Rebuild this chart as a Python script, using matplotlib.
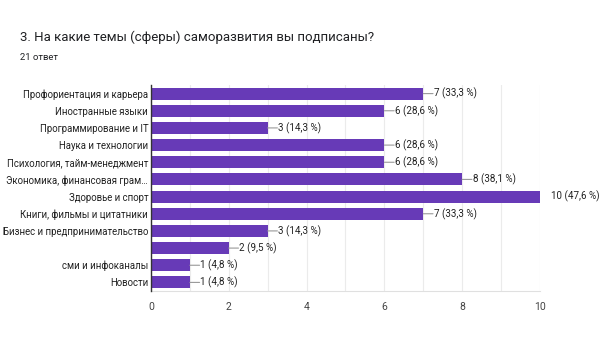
import matplotlib.pyplot as plt
from matplotlib.ticker import MultipleLocator

plt.rcParams['font.family'] = ['Roboto', 'DejaVu Sans']

categories = ['Профориентация и карьера', 'Иностранные языки', 'Программирование и IT',
              'Наука и технологии', 'Психология, тайм-менеджмент', 'Экономика, финансовая грам…',
              'Здоровье и спорт', 'Книги, фильмы и цитатники', 'Бизнес и предпринимательство',
              '', 'сми и инфоканалы', 'Новости']
counts = [7, 6, 3, 6, 6, 8, 10, 7, 3, 2, 1, 1]
percents = ['33,3', '28,6', '14,3', '28,6', '28,6', '38,1', '47,6', '33,3', '14,3', '9,5', '4,8', '4,8']
xticks = [0, 2, 4, 6, 8, 10]

bar_color = '#673ab7'
fs = 7.1

fig = plt.figure(figsize=(6.01, 3.52), dpi=100)
ax = fig.add_axes([0.2512, 0.1733, 0.6473, 0.5852])

ypos = list(range(len(categories)))
ax.barh(ypos, counts, height=0.7, color=bar_color, zorder=3)
ax.set_ylim(len(categories) - 0.5, -0.5)
ax.set_xlim(0, 10)
ax.set_yticks(ypos)
ax.set_yticklabels(categories, fontsize=6.9, color='#222222')
ax.set_xticks(xticks)
ax.set_xticklabels([str(t) for t in xticks], fontsize=7.5, color='#444444')
ax.xaxis.set_minor_locator(MultipleLocator(1))
ax.tick_params(axis='both', which='both', length=0)
ax.tick_params(axis='x', pad=8)
ax.tick_params(axis='y', pad=2)
ax.grid(axis='x', which='both', color='#ebebeb', linewidth=0.8, zorder=0)

for s in ['top', 'right']:
    ax.spines[s].set_visible(False)
ax.spines['left'].set_color('#333333')
ax.spines['left'].set_linewidth(1.0)
ax.spines['left'].set_zorder(4)
ax.spines['bottom'].set_color('#e0e0e0')

for y, c, p in zip(ypos, counts, percents):
    label = f'{c} ({p} %)'
    if c >= 10:
        ax.annotate(label, xy=(c, y), xytext=(8, 0), textcoords='offset points',
                    va='center', ha='left', fontsize=fs, color='#222222', annotation_clip=False)
    else:
        ax.annotate('', xy=(c, y), xytext=(7, 0), textcoords='offset points',
                    arrowprops=dict(arrowstyle='-', color='#999999', lw=0.8,
                                    shrinkA=0, shrinkB=0))
        ax.annotate(label, xy=(c, y), xytext=(7.5, 0), textcoords='offset points',
                    va='center', ha='left', fontsize=fs, color='#222222')

fig.text(20 / 601, 1 - 37 / 352, '3. На какие темы (сферы) саморазвития вы подписаны?',
         fontsize=9.5, color='#202124', va='center', ha='left')
fig.text(20 / 601, 1 - 57 / 352, '21 ответ', fontsize=6.8, color='#202124',
         va='center', ha='left')

fig.savefig('out.png', dpi=100, facecolor='white')
